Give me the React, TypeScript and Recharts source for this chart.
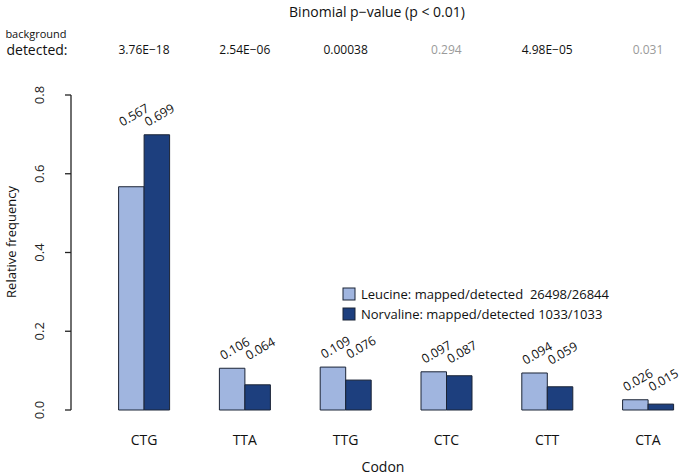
import React from "react";
import { BarChart, Bar, XAxis, YAxis, LabelList, Customized } from "recharts";

const codons = ["CTG", "TTA", "TTG", "CTC", "CTT", "CTA"];
const leucine = [0.567, 0.106, 0.109, 0.097, 0.094, 0.026];
const norvaline = [0.699, 0.064, 0.076, 0.087, 0.059, 0.015];
const pValues = ["3.76E\u221218", "2.54E\u221206", "0.00038", "0.294", "4.98E\u221205", "0.031"];
const significant = [true, true, true, false, true, false];
const yTicks = [0, 0.2, 0.4, 0.6, 0.8];

const data = codons.map((codon, i) => ({
  codon,
  leucine: leucine[i],
  norvaline: norvaline[i],
}));

const FONT = "'Open Sans', sans-serif";
const LIGHT = "#a0b5df";
const DARK = "#1d3f7e";
const EDGE = "#1b2436";
const AXIS = "#222";

// labels of a pair sit just above the taller bar of that pair
const ValueLabel = (props: any) => {
  const { x, y, width, height, value, index } = props;
  if (value == null) return null;
  const bottom = y + height;
  const perUnit = value > 0 ? height / value : 0;
  const max = Math.max(leucine[index] ?? value, norvaline[index] ?? value);
  const top = bottom - max * perUnit;
  const lx = x + width / 2 - 9;
  const ly = top - 8;
  return (
    <text
      x={lx}
      y={ly}
      transform={`rotate(-30 ${lx} ${ly})`}
      fontSize={12.5}
      fontFamily={FONT}
      fill="#111"
    >
      {value.toFixed(3)}
    </text>
  );
};

const YTick = (props: any) => {
  const { x, y, payload } = props;
  const tx = x - 20;
  return (
    <g>
      <line x1={x + 12} x2={x + 6} y1={y} y2={y} stroke={AXIS} strokeWidth={1.3} />
      <text
        x={tx}
        y={y}
        transform={`rotate(-90 ${tx} ${y})`}
        textAnchor="middle"
        dominantBaseline="central"
        fontSize={13}
        fontFamily={FONT}
        fill="#222"
      >
        {payload.value.toFixed(1)}
      </text>
    </g>
  );
};

const XTick = (props: any) => {
  const { x, payload } = props;
  return (
    <text x={x} y={439} textAnchor="middle" dominantBaseline="central" fontSize={14} fontFamily={FONT} fill="#111">
      {payload.value}
    </text>
  );
};

const PTick = (props: any) => {
  const { x, index } = props;
  return (
    <text
      x={x}
      y={49}
      textAnchor="middle"
      dominantBaseline="central"
      fontSize={12}
      fontFamily={FONT}
      fill={significant[index] ? "#111" : "#9a9a9a"}
    >
      {pValues[index]}
    </text>
  );
};

const Extras = () => (
  <g fontFamily={FONT}>
    <text x={377} y={11} textAnchor="middle" dominantBaseline="central" fontSize={14} fill="#111">
      Binomial p{"\u2212"}value (p {"<"} 0.01)
    </text>
    <text x={36} y={33} textAnchor="middle" dominantBaseline="central" fontSize={11} fill="#111">
      background
    </text>
    <text x={37} y={49} textAnchor="middle" dominantBaseline="central" fontSize={14} fill="#111">
      detected:
    </text>
    <text
      x={11}
      y={242}
      transform="rotate(-90 11 242)"
      textAnchor="middle"
      dominantBaseline="central"
      fontSize={13}
      fill="#111"
    >
      Relative frequency
    </text>
    <text x={383} y={466} textAnchor="middle" dominantBaseline="central" fontSize={14} fill="#111">
      Codon
    </text>
    <rect x={343} y={288} width={12} height={12} fill={LIGHT} stroke={EDGE} />
    <text x={361} y={294} dominantBaseline="central" fontSize={13} fill="#111">
      Leucine: mapped/detected{"\u00a0\u00a0"}26498/26844
    </text>
    <rect x={343} y={308} width={12} height={12} fill={DARK} stroke={EDGE} />
    <text x={361} y={314} dominantBaseline="central" fontSize={13} fill="#111">
      Norvaline: mapped/detected 1033/1033
    </text>
  </g>
);

export default function App() {
  return (
    <div
      style={{
        position: "fixed",
        top: 0,
        left: 0,
        width: 685,
        height: 476,
        overflow: "hidden",
        background: "#fff",
      }}
    >
      <BarChart
        width={700}
        height={476}
        data={data}
        margin={{ top: 65, right: 1.6, bottom: 0, left: 0 }}
        barGap={0}
      >
        <XAxis
          dataKey="codon"
          xAxisId="bottom"
          orientation="bottom"
          height={66}
          axisLine={false}
          tickLine={false}
          padding={{ left: 22.6, right: 0 }}
          tick={XTick}
          interval={0}
        />
        <XAxis
          dataKey="codon"
          xAxisId="top"
          orientation="top"
          height={30}
          axisLine={false}
          tickLine={false}
          padding={{ left: 22.6, right: 0 }}
          tick={PTick}
          interval={0}
        />
        <YAxis
          width={71}
          domain={[0, 0.8]}
          ticks={yTicks}
          tickSize={6}
          tickMargin={6}
          axisLine={{ stroke: AXIS, strokeWidth: 1.3 }}
          tickLine={false}
          tick={YTick}
        />
        <Bar
          dataKey="leucine"
          xAxisId="bottom"
          fill={LIGHT}
          stroke={EDGE}
          strokeWidth={1}
          barSize={25.5}
          isAnimationActive={false}
        >
          <LabelList dataKey="leucine" content={<ValueLabel />} />
        </Bar>
        <Bar
          dataKey="norvaline"
          xAxisId="bottom"
          fill={DARK}
          stroke={EDGE}
          strokeWidth={1}
          barSize={25.5}
          isAnimationActive={false}
        >
          <LabelList dataKey="norvaline" content={<ValueLabel />} />
        </Bar>
        <Customized component={Extras} />
      </BarChart>
    </div>
  );
}
